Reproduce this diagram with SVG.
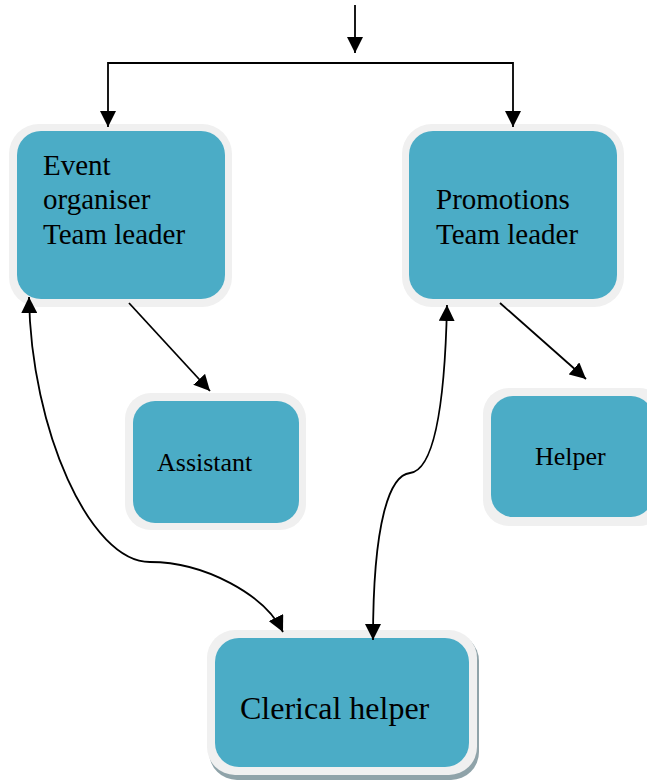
<svg xmlns="http://www.w3.org/2000/svg" width="654" height="782" viewBox="0 0 654 782">
<defs>
<style>
.outer{fill:#f0f0f0}
.inner{fill:#4bacc6}
.lbl{font-family:"Liberation Serif","Times New Roman",serif;fill:#000}
.conn{fill:none;stroke:#000;stroke-width:1.8}
</style>
<marker id="ah" markerUnits="userSpaceOnUse" viewBox="0 0 16 16" refX="16" refY="8" markerWidth="16" markerHeight="16" orient="auto-start-reverse">
<path d="M0,0 L16,8 L0,16 z" fill="#000"/>
</marker>
<clipPath id="clipR"><rect x="0" y="0" width="647" height="782"/></clipPath>
</defs>
<rect width="654" height="782" fill="#fff"/>

<g id="event">
<rect class="outer" x="9" y="124" width="223" height="183" rx="30"/>
<rect class="inner" x="17" y="131" width="208" height="168" rx="24"/>
<text class="lbl" font-size="29"><tspan x="43" y="175">Event</tspan><tspan x="43" y="209">organiser</tspan><tspan x="43" y="244">Team leader</tspan></text>
</g>

<g id="promotions">
<rect class="outer" x="402" y="124" width="222" height="183" rx="30"/>
<rect class="inner" x="409" y="131" width="208" height="168" rx="24"/>
<text class="lbl" font-size="29"><tspan x="436" y="209">Promotions</tspan><tspan x="436" y="244">Team leader</tspan></text>
</g>

<g id="assistant">
<rect class="outer" x="125" y="393" width="181" height="137" rx="26"/>
<rect class="inner" x="133" y="401" width="166" height="122" rx="22"/>
<text class="lbl" font-size="26" x="157" y="471">Assistant</text>
</g>

<g id="helper">
<g clip-path="url(#clipR)">
<rect class="outer" x="483" y="388" width="182" height="138" rx="26"/>
<rect class="inner" x="491" y="396" width="162" height="121" rx="22"/>
</g>
<text class="lbl" font-size="26" x="535" y="465">Helper</text>
</g>

<g id="clerical">
<rect x="209" y="633" width="270" height="147" rx="28" fill="#8fa3a9"/>
<rect class="outer" x="207" y="630" width="270" height="145" rx="28"/>
<rect class="inner" x="215" y="638" width="254" height="129" rx="24"/>
<text class="lbl" font-size="32" x="240" y="719">Clerical helper</text>
</g>

<g id="connectors">
<path class="conn" d="M355,5 L355,53" marker-end="url(#ah)"/>
<path class="conn" d="M108,127 L108,63 L513,63 L513,127" marker-start="url(#ah)" marker-end="url(#ah)"/>
<path class="conn" d="M129,303 L210,391" marker-end="url(#ah)"/>
<path class="conn" d="M500,303 L586,379" marker-end="url(#ah)"/>
<path class="conn" d="M29,297 C31,430 90,562 150,562 C205,562 265,595 283,632" marker-start="url(#ah)" marker-end="url(#ah)"/>
<path class="conn" d="M447,305 C445,400 435,470 410,473 C390,475 373,520 373,640" marker-start="url(#ah)" marker-end="url(#ah)"/>
</g>
</svg>
